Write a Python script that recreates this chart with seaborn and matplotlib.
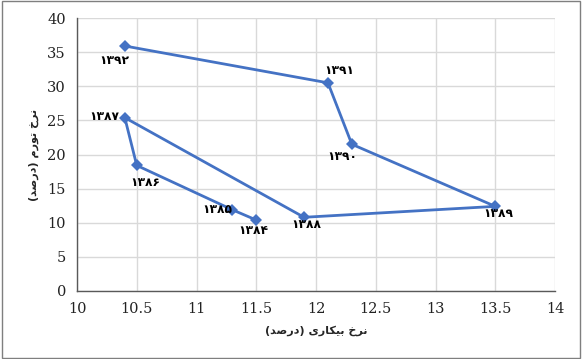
import matplotlib
matplotlib.use("Agg")
import matplotlib.pyplot as plt
import seaborn as sns
import pandas as pd

years = ["۱۳۸۴", "۱۳۸۵", "۱۳۸۶", "۱۳۸۷", "۱۳۸۸", "۱۳۸۹", "۱۳۹۰", "۱۳۹۱", "۱۳۹۲"]
unemployment = [11.5, 11.3, 10.5, 10.4, 11.9, 13.5, 12.3, 12.1, 10.4]
inflation = [10.4, 11.9, 18.4, 25.4, 10.8, 12.4, 21.5, 30.5, 35.9]
x_ticks = [10, 10.5, 11, 11.5, 12, 12.5, 13, 13.5, 14]
x_tick_labels = ["10", "10.5", "11", "11.5", "12", "12.5", "13", "13.5", "14"]
y_ticks = [0, 5, 10, 15, 20, 25, 30, 35, 40]

# Arabic presentation forms, visual left-to-right order
DARSAD = "(" + "\uFEAA\uFEBB\uFEAD\uFEA9" + ")"
NERKH = "\uFEA5\uFEAE\uFEE7"
BIKARI = "\uFBFC\uFEAD\uFE8E\uFB91\uFBFF\uFE91"
TAVAROM = "\uFEE1\uFEAD\uFEEE\uFE97"
x_label = DARSAD + " " + BIKARI + " " + NERKH
y_label = DARSAD + " " + TAVAROM + " " + NERKH

label_offsets = {
    "۱۳۸۴": (-3, -10), "۱۳۸۵": (-15, 0), "۱۳۸۶": (9, -17), "۱۳۸۷": (-20, 1),
    "۱۳۸۸": (2, -7), "۱۳۸۹": (3, -7), "۱۳۹۰": (-10, -12), "۱۳۹۱": (11, 12),
    "۱۳۹۲": (-10, -15),
}

df = pd.DataFrame({"year": years, "u": unemployment, "inf": inflation})

sns.set_theme(style="white")
plt.rcParams["font.family"] = ["DejaVu Sans"]

fig = plt.figure(figsize=(5.82, 3.59), dpi=100)
ax = fig.add_axes([77/582, 1 - 291/359, (555-77)/582, (291-18)/359])

sns.lineplot(data=df, x="u", y="inf", sort=False, estimator=None, ax=ax, color="#4472C4",
             linewidth=2, marker="D", markersize=6, markeredgewidth=0)

for yr, xv, yv in zip(years, unemployment, inflation):
    dx, dy = label_offsets[yr]
    ax.annotate(yr, (xv, yv), xytext=(dx * 0.72, dy * 0.72), textcoords="offset points",
                ha="center", va="center", fontsize=8.8, fontweight="bold", color="black",
                family=["DejaVu Sans"])

ax.set_xlim(10, 14)
ax.set_ylim(0, 40)
ax.set_xticks(x_ticks)
ax.set_xticklabels(x_tick_labels)
ax.set_yticks(y_ticks)
ax.grid(True, color="#d9d9d9", linewidth=1)
ax.set_axisbelow(True)
for side in ["top", "right"]:
    ax.spines[side].set_visible(False)
for side in ["left", "bottom"]:
    ax.spines[side].set_color("#595959")
    ax.spines[side].set_linewidth(1)
ax.tick_params(axis="both", length=0, pad=8, labelsize=10.5, labelcolor="#222222",
               labelfontfamily="DejaVu Serif")
ax.set_xlabel(x_label, fontsize=8, fontweight="bold", labelpad=7)
ax.set_ylabel(y_label, fontsize=8, fontweight="bold", labelpad=6)

fig.patches.append(plt.Rectangle((0.003, 0.003), 0.994, 0.994, transform=fig.transFigure,
                                 fill=False, edgecolor="#7f7f7f", linewidth=1))
fig.savefig("out.png", dpi=100)
